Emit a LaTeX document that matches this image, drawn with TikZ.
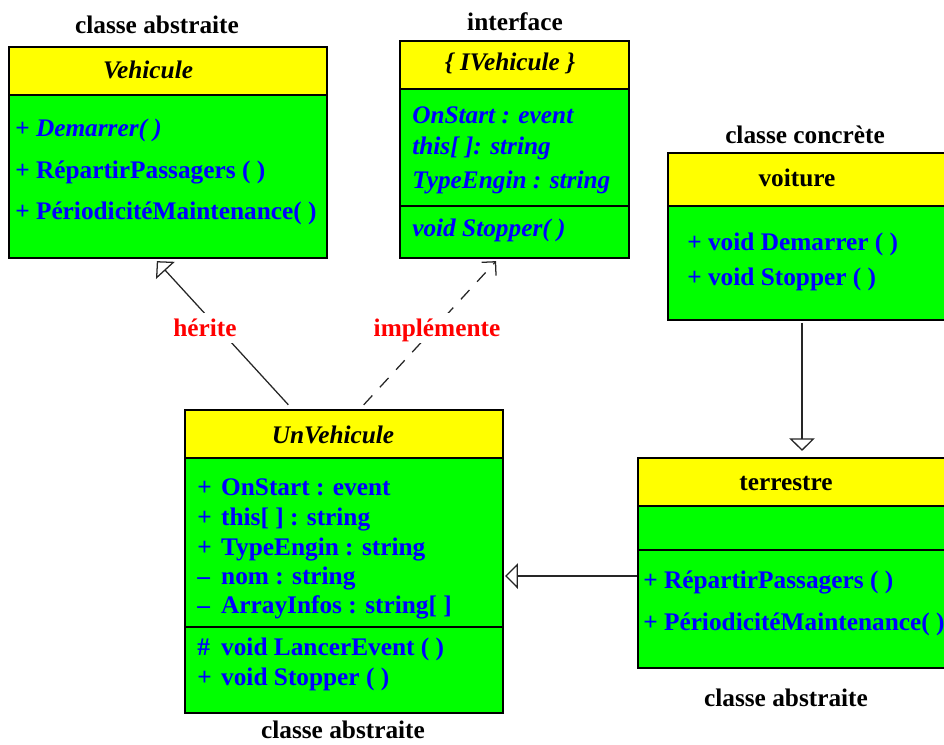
\documentclass[tikz,border=0pt]{standalone}
\usepackage{fontspec}
\setmainfont{Liberation Serif}
\usetikzlibrary{arrows.meta,calc}
\definecolor{cYellow}{RGB}{255,255,0}
\definecolor{cGreen}{RGB}{0,255,0}
\definecolor{cBlue}{RGB}{0,0,255}
\definecolor{cRed}{RGB}{255,0,0}
\newcommand{\fnt}{\fontsize{18}{20}\selectfont\bfseries}
\newcommand{\vis}[1]{\makebox[17pt][l]{#1}}
\tikzset{
  comp/.style 2 args={draw=black, line width=1.2pt, inner sep=0pt, outer sep=0pt, anchor=north west,
                      minimum width=#1*0.025cm, minimum height=#2*0.025cm},
  hdr/.style 2 args={comp={#1}{#2}, fill=cYellow},
  bdy/.style 2 args={comp={#1}{#2}, fill=cGreen},
  cname/.style={font=\fnt, inner sep=0pt, text height=12pt, text depth=0pt},
  row/.style={cname, text=cBlue, anchor=west},
  irow/.style={row, font=\fnt\itshape},
  rel/.style={cname, text=cRed, fill=white, inner xsep=2pt, inner ysep=5pt},
  inh/.style={-{Triangle[open, length=9pt, width=18pt]}, line width=0.9pt, draw=black!85},
  impl/.style={-{Straight Barb[length=7pt, width=14pt]}, line width=0.9pt, draw=black!85,
               dash pattern=on 9pt off 8pt},
}
\begin{document}
\begin{tikzpicture}[x=0.025cm, y=-0.025cm]
\useasboundingbox (0,0) rectangle (944,744);
\clip (0,0) rectangle (944,744);

% classe abstraite Vehicule
\node[hdr={318}{48}] (vehH) at (9,47) {};
\node[bdy={318}{163}] (vehB) at (vehH.south west) {};
\node[cname, font=\fnt\itshape] (vehN) at (148,70) {Vehicule};
\foreach \t/\y [count=\i] in {{+ \textit{Demarrer( )}}/128, {+ RépartirPassagers ( )}/170,
    {+ PériodicitéMaintenance( )}/211}
  \node[row] (vehR\i) at (15,\y) {\t};
\node[cname] (vehK) at (157,25) {classe abstraite};

% interface IVehicule
\node[hdr={229}{48}] (ivhH) at (400,41) {};
\node[bdy={229}{117}] (ivhA) at (ivhH.south west) {};
\node[bdy={229}{52}] (ivhM) at (ivhA.south west) {};
\node[cname, font=\fnt\itshape] (ivhN) at (510,62) {\{ IVehicule \}};
\foreach \t/\y [count=\i] in {{OnStart : event}/115, {this[ ]: string}/146, {TypeEngin : string}/180,
    {void Stopper( )}/228}
  \node[irow] (ivhR\i) at (412,\y) {\t};
\node[cname] (ivhK) at (515,22) {interface};

% classe concrete voiture
\node[hdr={282}{53}] (vtrH) at (668,153) {};
\node[bdy={282}{114}] (vtrB) at (vtrH.south west) {};
\node[cname] (vtrN) at (797,178) {voiture};
\foreach \t/\y [count=\i] in {{+ void Demarrer ( )}/242, {+ void Stopper ( )}/277}
  \node[row] (vtrR\i) at (687,\y) {\t};
\node[cname] (vtrK) at (805,135) {classe concrète};

% classe abstraite UnVehicule
\node[hdr={318}{48}] (unvH) at (185,410) {};
\node[bdy={318}{169}] (unvA) at (unvH.south west) {};
\node[bdy={318}{86}] (unvM) at (unvA.south west) {};
\node[cname, font=\fnt\itshape] (unvN) at (333,435) {UnVehicule};
\foreach \t/\y [count=\i] in {{\vis{+}OnStart : event}/487, {\vis{+}this[ ] : string}/517,
    {\vis{+}TypeEngin : string}/547, {\vis{--}nom : string}/576, {\vis{--}ArrayInfos : string[ ]}/605,
    {\vis{\#}void LancerEvent ( )}/647, {\vis{+}void Stopper ( )}/677}
  \node[row] (unvR\i) at (197,\y) {\t};
\node[cname] (unvK) at (343,730) {classe abstraite};

% classe abstraite terrestre
\node[hdr={312}{48}] (terH) at (638,458) {};
\node[bdy={312}{44}] (terA) at (terH.south west) {};
\node[bdy={312}{118}] (terB) at (terA.south west) {};
\node[cname] (terN) at (786,482) {terrestre};
\foreach \t/\y [count=\i] in {{+ RépartirPassagers ( )}/580, {+ PériodicitéMaintenance( )}/622}
  \node[row] (terR\i) at (643,\y) {\t};
\node[cname] (terK) at (786,698) {classe abstraite};

% relations
\draw[inh, shorten <=5pt, shorten >=3pt]
  ($(unvH.north west)!0.34!(unvH.north east)$) -- ($(vehB.south west)!0.456!(vehB.south east)$);
\draw[impl, shorten <=5pt, shorten >=3pt]
  ($(unvH.north west)!0.547!(unvH.north east)$) -- ($(ivhM.south west)!0.432!(ivhM.south east)$);
\draw[inh, shorten <=2pt, shorten >=5pt]
  ($(vtrB.south west)+(134,0)$) -- ($(terH.north west)+(164,0)$);
\draw[inh, shorten <=1pt, shorten >=1.5pt]
  ($(terB.north west)+(0,26)$) -- ($(unvA.north east)+(0,118)$);
\node[rel] (herL) at (205,328) {hérite};
\node[rel] (impL) at (437,328) {implémente};
\end{tikzpicture}
\end{document}
